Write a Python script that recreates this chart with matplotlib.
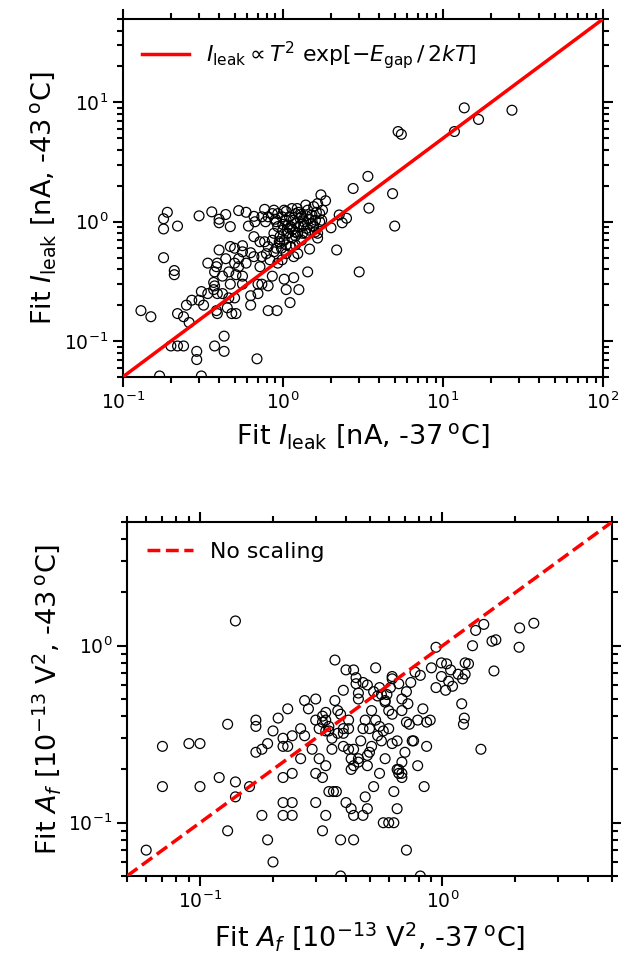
import matplotlib
matplotlib.use("Agg")
import matplotlib.pyplot as plt
from matplotlib.ticker import NullFormatter
import numpy as np

# ---------------- Top panel data: leakage current fits ----------------
ileak_37 = [
    13.6, 27, 16.7, 11.8, 5.25, 5.5, 3.4, 2.75, 4.85, 3.45, 5.0, 2.17, 3.0, 2.5, 2.35, 2.25,
    1.73, 1.85, 2.0, 1.65,
    0.13, 0.15, 0.18, 0.19, 0.18, 0.22, 0.18, 0.21, 0.21, 0.30, 0.36, 0.44, 0.40, 0.40, 0.47,
    0.53, 0.59, 0.66, 0.77, 0.74, 0.88, 0.67, 0.61, 0.78,
    0.2, 0.22, 0.24, 0.29, 0.29, 0.375, 0.43, 0.43, 0.69, 0.17, 0.31,
    0.22, 0.24, 0.26, 0.25, 0.27, 0.31, 0.30, 0.32, 0.34, 0.34, 0.375, 0.385, 0.39, 0.37, 0.375,
    0.37, 0.39, 0.42, 0.385, 0.39, 0.45, 0.48, 0.51, 0.46, 0.5, 0.47, 0.42, 0.46, 0.51, 0.56,
    0.56, 0.63, 0.63, 0.7, 0.7, 0.74, 0.81, 0.81, 0.92, 0.86, 1.02, 1.05, 1.17, 1.26, 1.11,
    1.43, 1.47,
    0.40, 0.47, 0.50, 0.56, 0.53, 0.44, 0.50, 0.59, 0.66, 0.74, 0.66, 0.72, 0.77, 0.86, 0.91,
    0.83, 0.93, 0.99, 1.05, 1.11, 1.17, 1.24, 1.31, 1.39, 1.47, 1.56, 0.72, 0.53, 0.56, 0.63,
    0.79, 0.81, 0.88, 0.96,
    0.93, 0.99, 1.05, 1.14, 1.2, 1.28, 1.35, 1.43, 1.52, 1.6, 1.7, 1.75, 0.93, 1.0, 1.06, 1.12,
    1.19, 1.26, 1.33, 1.41, 0.96, 1.02, 1.08, 1.14, 1.2, 1.31, 1.1, 1.16, 1.23, 1.02, 1.08,
    0.88, 0.91, 1.24, 1.5, 1.59, 1.65, 1.77, 1.56, 1.39, 1.65, 0.86, 0.81, 1.12, 1.2, 0.98,
    1.05,
    1.0, 1.1, 1.2, 1.3, 0.95, 1.15, 1.25, 1.35, 1.45, 1.05, 0.9, 1.4, 1.55, 1.62, 1.7,
]
ileak_43 = [
    9.0, 8.6, 7.2, 5.7, 5.7, 5.4, 2.4, 1.9, 1.72, 1.3, 0.92, 0.58, 0.38, 1.07, 0.98, 1.14,
    1.68, 1.5, 0.89, 0.80,
    0.18, 0.16, 1.06, 1.2, 0.87, 0.92, 0.5, 0.39, 0.36, 1.12, 1.21, 1.15, 1.05, 0.98, 0.91,
    1.24, 1.2, 1.11, 1.27, 1.1, 1.25, 1.0, 0.92, 1.0,
    0.091, 0.091, 0.091, 0.082, 0.070, 0.091, 0.11, 0.082, 0.071, 0.051, 0.051,
    0.17, 0.16, 0.143, 0.2, 0.22, 0.26, 0.22, 0.2, 0.25, 0.45, 0.38, 0.42, 0.45, 0.31, 0.29,
    0.27, 0.25, 0.25, 0.18, 0.17, 0.19, 0.17, 0.17, 0.23, 0.23, 0.30, 0.35, 0.38, 0.36, 0.35,
    0.30, 0.24, 0.2, 0.25, 0.30, 0.30, 0.29, 0.18, 0.18, 0.35, 0.33, 0.27, 0.34, 0.27, 0.21,
    0.38, 0.59,
    0.58, 0.62, 0.60, 0.63, 0.49, 0.49, 0.45, 0.45, 0.51, 0.51, 0.75, 0.68, 0.68, 0.7, 0.6,
    0.48, 0.45, 0.48, 0.54, 0.62, 0.51, 0.54, 0.7, 0.8, 0.85, 0.91, 0.42, 0.42, 0.56, 0.55,
    0.54, 0.62, 0.56, 0.66,
    1.17, 1.1, 1.03, 1.29, 1.17, 1.07, 1.0, 1.25, 1.14, 1.03, 1.17, 1.03, 0.91, 0.85, 0.8, 0.91,
    0.82, 0.91, 0.8, 0.88, 0.75, 0.7, 0.8, 0.73, 0.97, 1.1, 1.1, 1.03, 1.29, 1.25, 0.94,
    0.8, 1.0, 0.8, 0.97, 0.82, 0.73, 1.25, 1.34, 1.38, 1.42, 1.17, 1.1, 0.62, 0.64, 0.6,
    0.64,
    0.95, 0.88, 0.76, 1.15, 0.68, 0.86, 1.2, 0.93, 1.05, 1.22, 1.05, 1.12, 0.92, 1.2, 1.0,
]

# ---------------- Bottom panel data: 1/f amplitude fits ----------------
af_37 = [
    0.14, 0.06, 0.07, 0.07, 0.09, 0.1, 0.1, 0.12, 0.13, 0.14, 0.14, 0.16, 0.13, 0.17, 0.17,
    0.17, 0.18, 0.19, 0.2, 0.21, 0.22, 0.22, 0.23, 0.23, 0.24, 0.26, 0.26, 0.27, 0.28, 0.27,
    0.29, 0.30, 0.30, 0.31, 0.31, 0.32, 0.33, 0.33, 0.32, 0.30, 0.24, 0.22, 0.24, 0.22, 0.22,
    0.24, 0.18, 0.19, 0.2, 0.30, 0.33, 0.32, 0.34, 0.355, 0.365, 0.38, 0.38, 0.40, 0.42, 0.43,
    0.43, 0.47, 0.48, 0.49, 0.52, 0.57, 0.6, 0.63, 0.65, 0.63, 0.71, 0.81, 0.84, 0.79, 0.70,
    0.68, 0.66, 0.68, 0.75, 0.86, 1.44, 1.22, 1.23, 1.2, 1.63, 2.07, 2.08, 2.38, 1.48, 1.37,
    1.33, 1.6, 1.66, 0.94, 0.99, 1.04, 1.24, 1.28, 1.08, 1.16, 1.24, 1.21, 1.06, 1.1, 1.03,
    0.99, 0.90, 0.94, 0.89, 0.86, 0.83, 0.79, 0.76, 0.81, 0.77, 0.74, 0.71, 0.72, 0.73, 0.71,
    0.68, 0.68, 0.66, 0.62, 0.62, 0.61, 0.59, 0.58, 0.60, 0.62, 0.60, 0.57, 0.62, 0.58, 0.55,
    0.53, 0.49, 0.55, 0.51, 0.53, 0.55, 0.50, 0.48, 0.47, 0.45, 0.45, 0.44, 0.40, 0.43, 0.39,
    0.36, 0.36, 0.37, 0.38, 0.41, 0.41, 0.39, 0.37, 0.35, 0.35, 0.39, 0.41, 0.43, 0.42, 0.45,
    0.42, 0.43, 0.45, 0.49, 0.50, 0.49, 0.51, 0.46, 0.54, 0.56, 0.65, 0.65, 0.66, 0.68, 0.39,
    0.33, 0.34, 0.34, 0.33, 0.32, 0.54, 0.56, 0.58, 0.52, 0.47, 0.44,
]
af_43 = [
    1.38, 0.07, 0.27, 0.16, 0.28, 0.28, 0.16, 0.18, 0.36, 0.17, 0.14, 0.16, 0.09, 0.38, 0.35,
    0.25, 0.26, 0.28, 0.33, 0.39, 0.30, 0.27, 0.27, 0.44, 0.31, 0.34, 0.23, 0.49, 0.44, 0.31,
    0.26, 0.50, 0.38, 0.34, 0.23, 0.40, 0.42, 0.21, 0.18, 0.19, 0.19, 0.18, 0.13, 0.13, 0.11,
    0.11, 0.11, 0.08, 0.06, 0.13, 0.11, 0.09, 0.15, 0.15, 0.15, 0.08, 0.05, 0.13, 0.12, 0.08,
    0.11, 0.11, 0.14, 0.12, 0.16, 0.1, 0.1, 0.1, 0.12, 0.15, 0.07, 0.05, 0.16, 0.21, 0.25,
    0.19, 0.2, 0.22, 0.29, 0.27, 0.26, 0.36, 0.39, 0.47, 0.72, 0.98, 1.26, 1.34, 1.32, 1.22,
    1.0, 1.06, 1.08, 0.98, 0.8, 0.79, 0.8, 0.79, 0.73, 0.69, 0.69, 0.65, 0.63, 0.59, 0.56,
    0.67, 0.75, 0.58, 0.38, 0.37, 0.44, 0.38, 0.29, 0.68, 0.71, 0.62, 0.55, 0.47, 0.36, 0.37,
    0.43, 0.50, 0.61, 0.67, 0.65, 0.58, 0.53, 0.48, 0.43, 0.41, 0.34, 0.33, 0.28, 0.23, 0.19,
    0.75, 0.60, 0.58, 0.43, 0.38, 0.35, 0.34, 0.38, 0.34, 0.54, 0.50, 0.61, 0.73, 0.73, 0.56,
    0.83, 0.49, 0.43, 0.41, 0.38, 0.34, 0.34, 0.32, 0.30, 0.26, 0.27, 0.26, 0.26, 0.23, 0.23,
    0.20, 0.21, 0.22, 0.24, 0.25, 0.21, 0.27, 0.29, 0.31, 0.29, 0.29, 0.20, 0.19, 0.18, 0.32,
    0.33, 0.33, 0.35, 0.38, 0.37, 0.52, 0.53, 0.49, 0.55, 0.62, 0.66,
]

# Scaling lines
ileak_lim = [0.1, 100.0]
ileak_ratio = 0.5           # T^2 exp[-Egap/2kT] scaling from -37 C to -43 C
af_lim = [0.05, 5.0]

W, H = 621, 960
fig = plt.figure(figsize=(W / 100, H / 100), dpi=100)

def style(ax):
    ax.set_xscale('log')
    ax.set_yscale('log')
    for s in ax.spines.values():
        s.set_linewidth(1.5)
    ax.tick_params(which='both', direction='out', top=True, right=True, width=1.5)
    ax.tick_params(which='major', length=7, labelsize=13.5)
    ax.tick_params(which='minor', length=4)
    ax.xaxis.set_minor_formatter(NullFormatter())
    ax.yaxis.set_minor_formatter(NullFormatter())

LABEL_FS = 19.5
LEG_FS = 15.8

# ---- top panel
ax1 = fig.add_axes([122.7 / W, 1 - 377 / H, 480.3 / W, 358 / H])
style(ax1)
ax1.scatter(ileak_37, ileak_43, s=50, facecolors='none', edgecolors='k', linewidths=0.9, zorder=2)
xl = np.array(ileak_lim)
ax1.plot(xl, ileak_ratio * xl, color='red', lw=2.5, zorder=3,
         label=r'$I_{\rm leak} \propto T^2\ {\rm exp}[-E_{\rm gap}\,/\,2kT]$')
ax1.set_xlim(0.1, 100)
ax1.set_ylim(0.05, 50)
ax1.set_xlabel(r'Fit $I_{\rm leak}$ [nA, -37$\,^{\rm o}$C]', fontsize=LABEL_FS, labelpad=6)
ax1.set_ylabel(r'Fit $I_{\rm leak}$ [nA, -43$\,^{\rm o}$C]', fontsize=LABEL_FS, labelpad=4)
ax1.legend(loc='upper left', frameon=False, fontsize=LEG_FS, handlelength=2.1)

# ---- bottom panel
ax2 = fig.add_axes([127 / W, 1 - 876 / H, 485 / W, 354 / H])
style(ax2)
ax2.scatter(af_37, af_43, s=50, facecolors='none', edgecolors='k', linewidths=0.9, zorder=2)
al = np.array(af_lim)
ax2.plot(al, al, color='red', lw=2.5, ls='--', zorder=3, label='No scaling')
ax2.set_xlim(0.05, 5)
ax2.set_ylim(0.05, 5)
ax2.set_xlabel(r'Fit $A_f$ [$10^{-13}$ V$^2$, -37$\,^{\rm o}$C]', fontsize=LABEL_FS, labelpad=6)
ax2.set_ylabel(r'Fit $A_f$ [$10^{-13}$ V$^2$, -43$\,^{\rm o}$C]', fontsize=LABEL_FS, labelpad=4)
ax2.legend(loc='upper left', frameon=False, fontsize=LEG_FS, handlelength=2.1)

fig.savefig('out.png', dpi=100)
